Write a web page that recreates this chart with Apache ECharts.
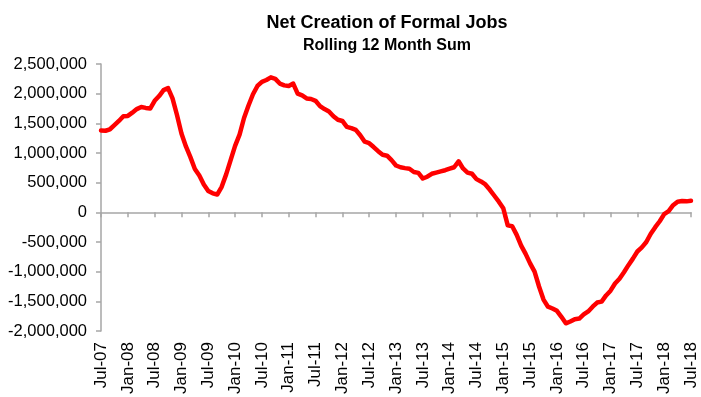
<!DOCTYPE html>
<html>
<head>
<meta charset="utf-8">
<script src="https://cdn.jsdelivr.net/npm/echarts@6/dist/echarts.min.js"></script>
<style>
  html, body { margin: 0; padding: 0; background: #fff; }
  #chart { width: 701px; height: 397px; }
</style>
</head>
<body>
<div id="chart"></div>
<script>
// Monthly categories, Jul-07 through Jul-18
const monthNames = ['Jan','Feb','Mar','Apr','May','Jun','Jul','Aug','Sep','Oct','Nov','Dec'];
const months = [];
for (let i = 0; i < 133; i++) {
  const m = (6 + i) % 12;
  const y = 7 + Math.floor((6 + i) / 12);
  months.push(monthNames[m] + '-' + String(y).padStart(2, '0'));
}

// Net formal job creation, rolling 12-month sum (thousands of jobs)
const jobsThousands = [
  1380, 1375, 1400, 1470, 1540, 1620, 1625, 1680, 1740, 1775, 1760, 1750,
  1880, 1960, 2060, 2095, 1920, 1640, 1330, 1110, 930, 730, 620, 470,
  360, 320, 300, 430, 640, 880, 1120, 1310, 1590, 1800, 1990, 2130,
  2200, 2230, 2275, 2250, 2170, 2140, 2130, 2170, 2000, 1970, 1920, 1910,
  1880, 1790, 1740, 1700, 1620, 1560, 1540, 1440, 1420, 1390, 1300, 1190,
  1165, 1100, 1030, 970, 955, 880, 790, 760, 745, 735, 680, 665,
  570, 600, 650, 670, 690, 710, 735, 760, 860, 740, 670, 650,
  560, 520, 470, 380, 280, 180, 70, -220, -235, -380, -560, -700,
  -860, -1000, -1250, -1470, -1590, -1620, -1660, -1760, -1870, -1840, -1800, -1790,
  -1720, -1670, -1590, -1520, -1505, -1400, -1320, -1200, -1120, -1010, -890, -780,
  -660, -590, -500, -360, -250, -150, -30, 20, 120, 180, 190, 185,
  195
];
const jobs = jobsThousands.map(v => v * 1000);

// Value axis range
const yMin = -2000000;
const yMax = 2500000;
const yStep = 500000;

const titleText = 'Net Creation of Formal Jobs';
const subtitleText = 'Rolling 12 Month Sum';

const fontFamily = "'Liberation Sans', Arial, sans-serif";
const axisGrey = '#a6a6a6';

const chart = echarts.init(document.getElementById('chart'), null, { renderer: 'canvas' });

chart.setOption({
  animation: false,
  backgroundColor: '#ffffff',
  graphic: [
    {
      type: 'text',
      style: {
        text: titleText, x: 387, y: 14, align: 'center', verticalAlign: 'top',
        font: "bold 18px 'Liberation Sans', Arial, sans-serif", fill: '#000'
      }
    },
    {
      type: 'text',
      style: {
        text: subtitleText, x: 387, y: 38, align: 'center', verticalAlign: 'top',
        font: "bold 16px 'Liberation Sans', Arial, sans-serif", fill: '#000'
      }
    }
  ],
  grid: { left: 101, right: 10, top: 64, bottom: 63, containLabel: false },
  xAxis: [
    {
      // bottom label axis
      type: 'category',
      data: months,
      boundaryGap: false,
      position: 'bottom',
      axisLine: { show: false, onZero: false },
      axisTick: { show: false },
      axisLabel: {
        interval: 5,
        rotate: 90,
        margin: 11,
        fontSize: 17,
        fontFamily: fontFamily,
        color: '#000'
      },
      splitLine: { show: false }
    },
    {
      // zero line with tick marks
      type: 'category',
      data: months,
      boundaryGap: false,
      position: 'bottom',
      axisLine: { show: true, onZero: true, lineStyle: { color: axisGrey, width: 1.5 } },
      axisTick: { show: true, interval: 5, length: 5, inside: false, lineStyle: { color: axisGrey, width: 1.5 } },
      axisLabel: { show: false },
      splitLine: { show: false }
    }
  ],
  yAxis: {
    type: 'value',
    min: yMin,
    max: yMax,
    interval: yStep,
    axisLine: { show: true, lineStyle: { color: axisGrey, width: 1.5 } },
    axisTick: { show: true, length: 5, lineStyle: { color: axisGrey, width: 1.5 } },
    axisLabel: {
      margin: 14,
      fontSize: 16.5,
      fontFamily: fontFamily,
      color: '#000',
      formatter: v => v.toLocaleString('en-US')
    },
    splitLine: { show: false }
  },
  series: [
    {
      type: 'line',
      xAxisIndex: 0,
      data: jobs,
      showSymbol: false,
      symbol: 'none',
      smooth: false,
      lineStyle: { color: '#ff0000', width: 4.5, join: 'round', cap: 'round' }
    }
  ]
});
</script>
</body>
</html>
